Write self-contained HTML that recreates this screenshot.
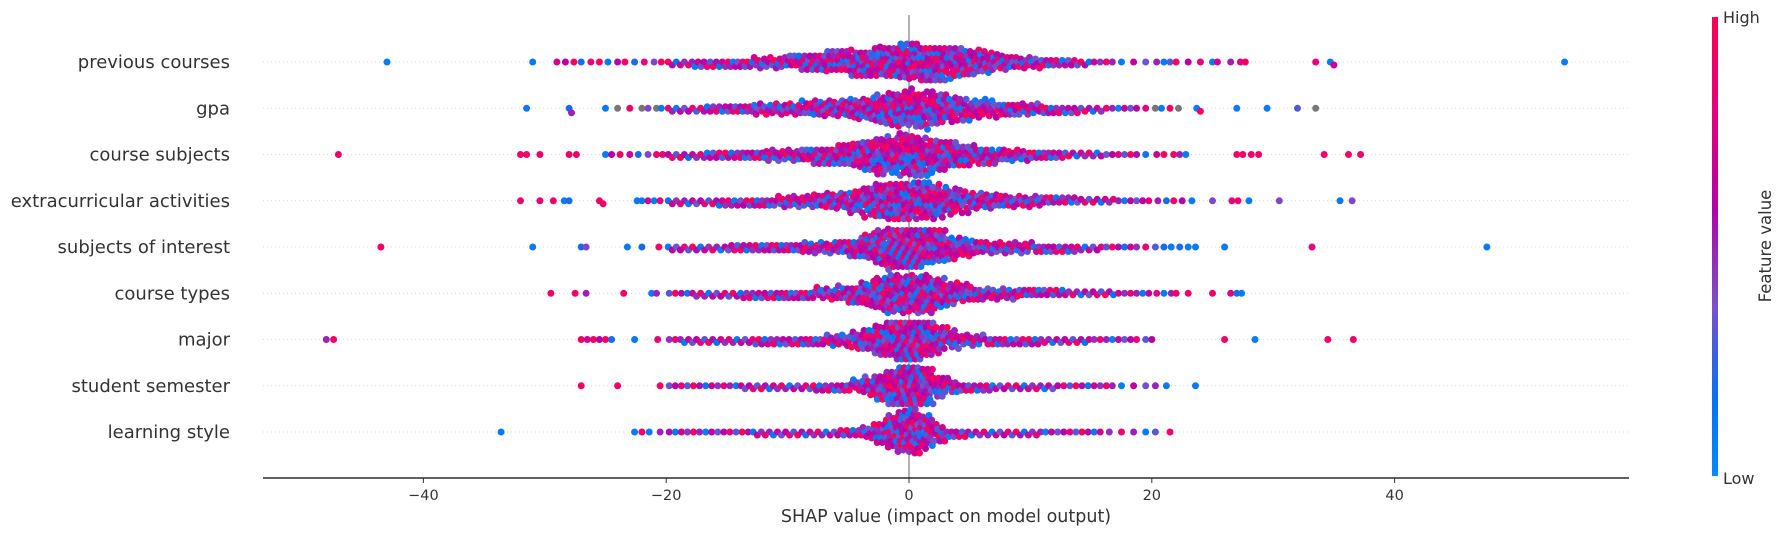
<!DOCTYPE html>
<html><head><meta charset="utf-8"><style>
html,body{margin:0;padding:0;background:#fff;}
svg{display:block;font-family:"DejaVu Sans","Liberation Sans",sans-serif;}
</style></head><body>
<svg id="chart" width="1785" height="536" viewBox="0 0 1785 536">
<defs>
<linearGradient id="cbar" x1="0" y1="1" x2="0" y2="0">
<stop offset="0" stop-color="#008bfb"/><stop offset="0.18" stop-color="#0a6ff0"/><stop offset="0.37" stop-color="#7a50cc"/><stop offset="0.59" stop-color="#b400a8"/><stop offset="0.8" stop-color="#e6007a"/><stop offset="1" stop-color="#ff0052"/>
</linearGradient>
</defs>
<g id="grid"></g>
<line x1="909" y1="15" x2="909" y2="478" stroke="#999" stroke-width="1.5"/>
<g id="dots"></g>
<g id="labels"></g>
<line x1="263" y1="478" x2="1629" y2="478" stroke="#000" stroke-width="1.2"/>
<g id="xticks"></g>
<text x="946" y="522" font-size="17.5" fill="#333" text-anchor="middle">SHAP value (impact on model output)</text>
<rect x="1712" y="17" width="6" height="459" fill="url(#cbar)"/>
<text x="1723" y="23" font-size="16" fill="#333">High</text>
<text x="1723" y="484" font-size="16" fill="#333">Low</text>
<text x="0" y="0" font-size="16.5" fill="#333" text-anchor="middle" transform="translate(1771,246) rotate(-90)">Feature value</text>
</svg>
<script>
const features = ["previous courses","gpa","course subjects","extracurricular activities","subjects of interest","course types","major","student semester","learning style"];
const xTicks = [-40,-20,0,20,40];
const binStart = -20;
const counts1 = [3,3,4,4,4,5,5,6,6,7,8,9,10,12,13,15,16,17,18,20,21,21,20,18,16,14,12,10,8,7,6,5,4,4,3,2,2,1,1,1];
const counts2 = [3,3,3,4,4,5,5,6,6,7,7,8,9,10,11,13,14,17,19,20,21,20,17,14,12,10,9,8,8,7,6,5,4,4,3,3,2,2,2,1];
const counts3 = [3,3,3,4,4,4,5,5,6,6,7,8,9,10,12,14,17,20,22,23,23,21,18,15,12,10,9,8,7,6,5,5,4,3,3,3,2,2,2,1];
const counts4 = [3,3,3,3,4,4,4,5,5,6,7,7,8,9,11,13,16,19,21,22,22,21,18,15,12,10,9,8,7,6,6,5,4,4,3,3,3,2,2,2];
const counts5 = [3,3,3,3,3,4,4,4,5,5,5,6,6,7,8,10,14,19,23,24,24,22,18,13,10,8,7,7,6,6,5,5,4,4,3,3,2,2,2,1];
const counts6 = [2,2,3,3,3,3,4,4,4,5,5,5,6,7,8,11,14,18,21,22,22,21,17,13,10,8,7,6,6,5,5,4,4,3,3,3,3,2,2,2];
const counts7 = [2,3,3,3,3,3,3,4,4,4,4,5,5,6,7,9,12,17,22,24,24,21,15,10,7,6,5,5,4,4,4,3,3,3,3,2,2,2,2,1];
const counts8 = [2,2,2,2,2,2,3,3,3,3,3,3,4,4,5,6,9,14,20,24,24,20,13,8,5,4,4,3,3,3,3,3,2,2,2,2,2,1,1,1];
const counts9 = [2,2,2,2,2,2,2,3,3,3,3,3,3,3,4,4,7,12,19,26,26,18,10,5,4,3,3,3,3,3,3,2,2,2,2,2,1,1,1,1];
const outX1 = [-43,-31,-29,-28.3,-27.6,-27,-26.2,-25.5,-24.8,-24,-23.4,-22.6,-21.8,-21,-20.4,20.4,21,21.5,22,23,24,25,25.4,26.5,27.3,27.7,33.5,34.7,35,54];
const outC1 = [0.1,0.1,0.7,0.6,0.9,0.2,0.8,0.95,0.1,0.6,0.9,0.2,0.8,0.4,0.95,0.5,0.1,0.3,0.9,0.6,0.8,0.1,0.7,0.5,0.8,0.9,0.8,0.1,0.7,0.1];
const outX2 = [-31.5,-28,-27.8,-25,-24,-23,-22,-21.5,-20.8,-20.4,20.3,20.8,21.5,22.2,23.7,24,27,29.5,32,33.5];
const outC2 = [0.1,0.2,0.5,0.1,-1,0.9,-1,0.4,-1,0.1,-1,0.1,0.9,-1,0.1,0.9,0.1,0.1,0.3,-1];
const outX3 = [-47,-32,-31.5,-30.4,-28,-27.4,-25,-24.5,-23.8,-23,-22.3,-21.5,-20.8,-20.3,20.4,21,21.8,22.3,22.8,27,27.5,28.2,28.8,34.2,36.2,37.2];
const outC3 = [0.9,0.9,0.9,0.9,0.9,0.9,0.1,0.6,0.9,0.7,0.2,0.4,0.9,0.8,0.7,0.9,0.9,0.5,0.1,0.9,0.9,0.9,0.9,0.9,0.9,0.9];
const outX4 = [-32,-30.4,-29.3,-28.4,-28,-25.5,-25.2,-22.4,-22,-21.5,-21,-20.5,20.5,21.2,21.8,22.5,23.3,25,26.6,27.1,28,30.5,35.5,36.5];
const outC4 = [0.9,0.8,0.9,0.1,0.2,0.9,0.9,0.1,0.1,0.7,0.1,0.8,0.5,0.2,0.9,0.6,0.1,0.4,0.8,0.9,0.1,0.4,0.1,0.4];
const outX5 = [-43.5,-31,-27,-26.6,-23.2,-22,-20.6,20.3,21,21.6,22.3,23,23.6,26,33.2,47.6];
const outC5 = [0.9,0.1,0.2,0.4,0.1,0.2,0.9,0.3,0.2,0.1,0.2,0.1,0.1,0.1,0.8,0.1];
const outX6 = [-29.5,-27.5,-26.6,-23.5,-21.2,-20.8,20.4,21,21.6,22,23,25,26.5,27,27.4];
const outC6 = [0.9,0.9,0.5,0.9,0.1,0.5,0.8,0.1,0.5,0.9,0.9,0.9,0.8,0.2,0.1];
const outX7 = [-48,-47.4,-27,-26.5,-26,-25.5,-25,-24.5,-22.6,-20.7,20,26,28.5,34.5,36.6];
const outC7 = [0.5,0.9,0.9,0.7,0.9,0.6,0.9,0.2,0.1,0.8,0.6,0.9,0.1,0.9,0.9];
const outX8 = [-27,-24,-20.5,20.3,21.2,23.6];
const outC8 = [0.9,0.9,0.9,0.5,0.1,0.1];
const outX9 = [-33.6,-22.6,-22,-21.4,-20.5,20.3,21.5];
const outC9 = [0.1,0.1,0.9,0.1,0.5,0.3,0.9];

const allCounts=[counts1,counts2,counts3,counts4,counts5,counts6,counts7,counts8,counts9];
const allOutX=[outX1,outX2,outX3,outX4,outX5,outX6,outX7,outX8,outX9];
const allOutC=[outC1,outC2,outC3,outC4,outC5,outC6,outC7,outC8,outC9];
const colorSeq=[0.95,0.55,0.15,0.7,0.45,0.85,0.5,0.1,0.65,0.35,0.6,0.8,0.3];

const NS="http://www.w3.org/2000/svg";
function xScale(v){return 909+v*12.14;}
function yRow(i){return 62+i*46.25;}
const stops=[[0,[0,139,251]],[0.18,[10,111,240]],[0.37,[122,80,204]],[0.59,[180,0,168]],[0.8,[230,0,122]],[1,[255,0,82]]];
function cmap(v){
  if(v<0) return "#777777";
  for(let i=1;i<stops.length;i++){
    if(v<=stops[i][0]){
      const a=stops[i-1],b=stops[i],t=(v-a[0])/(b[0]-a[0]);
      return "rgb("+a[1].map((c,j)=>Math.round(c+(b[1][j]-c)*t)).join(",")+")";
    }
  }
  return "rgb(255,0,82)";
}
const grid=document.getElementById('grid'),dots=document.getElementById('dots'),labels=document.getElementById('labels'),xt=document.getElementById('xticks');
features.forEach((f,i)=>{
  const y=yRow(i);
  const ln=document.createElementNS(NS,'line');
  ln.setAttribute('x1',263);ln.setAttribute('x2',1629);ln.setAttribute('y1',y);ln.setAttribute('y2',y);
  ln.setAttribute('stroke','#cccccc');ln.setAttribute('stroke-width','0.8');ln.setAttribute('stroke-dasharray','1,3');
  
  
  grid.appendChild(ln);
  const t=document.createElementNS(NS,'text');
  t.setAttribute('x',230);t.setAttribute('y',y+6);t.setAttribute('text-anchor','end');t.setAttribute('font-size','18');t.setAttribute('fill','#333');
  t.textContent=f;
  
  
  labels.appendChild(t);
  const pts=[];let g=0;
  allCounts[i].forEach((n,k)=>{
    for(let j=0;j<n;j++){pts.push([binStart+k+(j+0.5)/n,colorSeq[(g+i*5)%colorSeq.length]]);g++;}
  });
  allOutX[i].forEach((v,j)=>pts.push([v,allOutC[i][j]]));
  pts.sort((a,b)=>a[0]-b[0]);
  const placed=[];const md=4.4,step=1.5;
  pts.forEach(p=>{
    const px=xScale(p[0]);let off=0;
    for(let k=0;k<80;k++){
      const cand=(k%2?1:-1)*Math.ceil(k/2)*step;
      let ok=true;
      for(let q=placed.length-1;q>=0;q--){
        const dx=px-placed[q][0];if(dx>md)break;
        const dy=cand-placed[q][1];
        if(dx*dx+dy*dy<md*md){ok=false;break;}
      }
      if(ok){off=cand;break;}
    }
    placed.push([px,off,p[1]]);
  });
  placed.forEach(p=>{
    const c=document.createElementNS(NS,'circle');
    c.setAttribute('cx',p[0].toFixed(1));c.setAttribute('cy',(y+p[1]).toFixed(1));c.setAttribute('r','3.5');c.setAttribute('fill',cmap(p[2]));
    
    
    dots.appendChild(c);
  });
});
xTicks.forEach(v=>{
  const x=xScale(v);
  const l=document.createElementNS(NS,'line');
  l.setAttribute('x1',x);l.setAttribute('x2',x);l.setAttribute('y1',478);l.setAttribute('y2',483);l.setAttribute('stroke','#333');l.setAttribute('stroke-width','1');
  
  
  xt.appendChild(l);
  const t=document.createElementNS(NS,'text');
  t.setAttribute('x',x);t.setAttribute('y',500);t.setAttribute('text-anchor','middle');t.setAttribute('font-size','14.5');t.setAttribute('fill','#333');
  t.textContent=v<0?'\u2212'+Math.abs(v):String(v);
  
  
  xt.appendChild(t);
});
</script>
</body></html>
